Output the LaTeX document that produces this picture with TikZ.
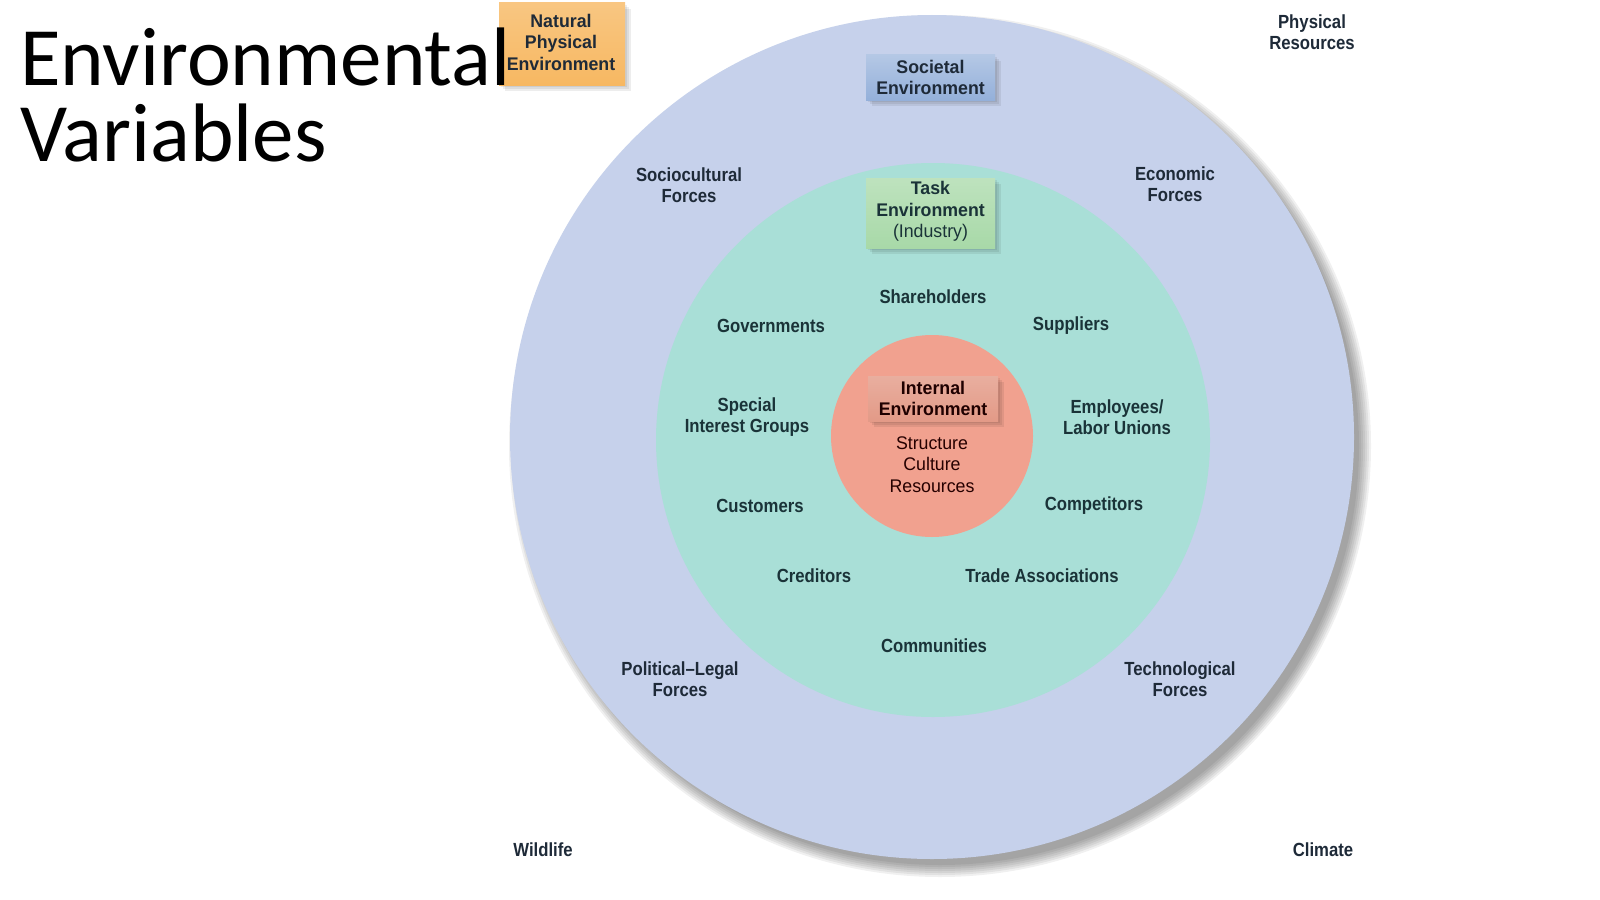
\documentclass[tikz,border=0pt]{standalone}
\usepackage{fontspec}
\setmainfont{Liberation Sans}
\newfontfamily\titlefont{Carlito}
\newfontfamily\labfont[FakeStretch=0.88]{Liberation Sans}
\newfontfamily\boxfont[FakeStretch=0.97]{Liberation Sans}
\definecolor{outerc}{HTML}{C6D1EB}
\definecolor{tealc}{HTML}{A9DFD7}
\definecolor{redc}{HTML}{F1A18F}
\definecolor{labc}{HTML}{1E2A38}
\definecolor{labt}{HTML}{1A3338}
\definecolor{orangec}{HTML}{F7B862}
\definecolor{bluec}{HTML}{94B0DA}
\definecolor{greenc}{HTML}{A8D9A8}
\definecolor{intc}{HTML}{E39A87}
\begin{document}
\begin{tikzpicture}[x=1pt,y=-1pt,
  lab/.style={text=labc,align=center,inner sep=0pt,font=\labfont\bfseries\fontsize{19}{21}\selectfont},
  tlab/.style={lab,text=labt},
  boxtext/.style={text=labc,align=center,inner sep=0pt,font=\boxfont\bfseries\fontsize{18.3}{21.5}\selectfont},
  shadowfill/.style={fill=black,opacity=0.07}
]
\useasboundingbox[fill=white] (0,0) rectangle (1600,899);
% outer circle shadow
\foreach \r in {431,429,427,425,423,421,419} {
  \fill[black,opacity=0.06] (940,446) circle[radius=\r];
}
\fill[outerc] (932,437) circle[radius=422];
\fill[tealc] (933,440) circle[radius=277];
\fill[redc] (932,436) circle[radius=101];

% Natural Physical Environment box
\foreach \d in {2,4,6} {\fill[shadowfill] (499+\d,3+\d) rectangle (625+\d,85+\d);}
\node[top color=orangec!80!white,bottom color=orangec,minimum width=126pt,minimum height=82pt,inner sep=0pt] (nat) at (562,44) {};
\node[boxtext] (natt) at (561,42) {Natural\\Physical\\Environment};

% Societal Environment box
\foreach \d in {2,4,6} {\fill[shadowfill] (866+\d,55+\d) rectangle (995+\d,100+\d);}
\node[top color=bluec!70!white,bottom color=bluec,minimum width=129pt,minimum height=45pt,inner sep=0pt] (soc) at (930.5,77.5) {};
\node[boxtext] (soct) at (930.5,77.5) {Societal\\Environment};

% Task Environment box
\foreach \d in {2,4,6} {\fill[shadowfill] (866+\d,178+\d) rectangle (995+\d,248+\d);}
\node[top color=greenc!75!white,bottom color=greenc,minimum width=129pt,minimum height=70pt,inner sep=0pt] (task) at (930.5,213) {};
\node[boxtext,text=labt] (taskt) at (930.5,211.5) {Task\\Environment\\\mdseries(Industry)};

% Internal Environment box
\foreach \d in {2,4,6} {\fill[shadowfill] (868+\d,376+\d) rectangle (998+\d,421+\d);}
\node[top color=intc!80!white,bottom color=intc,minimum width=130pt,minimum height=45pt,inner sep=0pt] (int) at (933,398.5) {};
\node[boxtext,text=black!80!red!60!black] (intt) at (933,398.5) {Internal\\Environment};
\node[text=black!70!red!50!black,align=center,inner sep=0pt,font=\boxfont\fontsize{18.3}{21.5}\selectfont] (intl) at (932,464.5) {Structure\\Culture\\Resources};

% societal forces
\node[lab] (socio) at (689,185.5) {Sociocultural\\Forces};
\node[lab] (econ) at (1175,184.5) {Economic\\Forces};
\node[lab] (pol) at (680,679.5) {Political–Legal\\Forces};
\node[lab] (tech) at (1180,679.5) {Technological\\Forces};

% task environment
\node[tlab] (share) at (933,297) {Shareholders};
\node[tlab] (gov) at (771,326) {Governments};
\node[tlab] (supp) at (1071,326) {Suppliers};
\node[tlab] (spec) at (747,417.5) {Special\\Interest Groups};
\node[tlab] (empl) at (1117,417.5) {Employees/\\Labor Unions};
\node[tlab] (cust) at (760,506) {Customers};
\node[tlab] (comp) at (1094,506) {Competitors};
\node[tlab] (cred) at (814,576) {Creditors};
\node[tlab] (trade) at (1042,576) {Trade Associations};
\node[tlab] (comm) at (934,646) {Communities};

% natural environment
\node[lab] (phys) at (1312,32.5) {Physical\\Resources};
\node[lab] (wild) at (543,850) {Wildlife};
\node[lab] (clim) at (1323,850) {Climate};

% title
\node[anchor=base west,inner sep=0pt,font=\titlefont\fontsize{83}{83}\selectfont] (title1) at (20,85) {Environmental};
\node[anchor=base west,inner sep=0pt,font=\titlefont\fontsize{83}{83}\selectfont] (title2) at (20,161) {Variables};
\end{tikzpicture}
\end{document}
